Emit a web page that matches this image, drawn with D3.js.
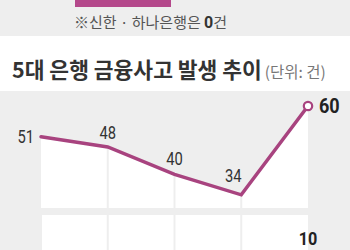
<!DOCTYPE html>
<html><head><meta charset="utf-8">
<script src="https://cdn.jsdelivr.net/npm/d3@7"></script>
<style>
html,body{margin:0;padding:0;background:#fff;overflow:hidden}
svg{display:block}
</style></head>
<body>
<svg id="c" width="350" height="250"></svg>
<script>
const categories = ['2019','2020','2021','2022','2023'];
const values = [51, 48, 40, 34, 60];
const valueLabels = ['51','48','40','34','60'];
const bottomLabels = ['10'];
const titleText = '5대 은행 금융사고 발생 추이';
const unitText = '(단위: 건)';
const noteText = '※신한 · 하나은행은 ';
const noteBold = '0';
const noteEnd = '건';

const svg = d3.select('#c');
const magenta = '#a8437f';
const gray = '#eeeeee';
const cjk = "'Noto Sans CJK KR','Noto Sans',sans-serif";
const num = "Roboto,'Noto Sans',sans-serif";

// top band
svg.append('rect').attr('x',0).attr('y',0).attr('width',350).attr('height',36).attr('fill',gray);
svg.append('rect').attr('x',75).attr('y',0).attr('width',96).attr('height',7).attr('fill','#b4488b');
const note = svg.append('text').attr('x',74).attr('y',28).attr('font-family',cjk).attr('font-size',15).attr('fill','#555');
note.append('tspan').text(noteText);
note.append('tspan').attr('font-weight','bold').attr('fill','#333').attr('font-family',num).attr('font-size',16).text(noteBold);
note.append('tspan').text(noteEnd);

// title
const t = svg.append('text').attr('x',12).attr('y',78).attr('font-family',cjk);
t.append('tspan').attr('font-size',21.5).attr('font-weight','bold').attr('fill','#333').text(titleText);
t.append('tspan').attr('dx',3).attr('font-size',15.5).attr('fill','#777').text(unitText);

// chart background
svg.append('rect').attr('x',0).attr('y',91).attr('width',350).attr('height',159).attr('fill',gray);

const x = d3.scalePoint().domain(categories).range([41, 308]);
const y = d3.scaleLinear().domain([0, 60]).range([311, 106]);
const bottomY = 208;

// white area under line
const area = d3.area().x((d,i)=>x(categories[i])).y0(bottomY).y1(d=>y(d));
svg.append('path').datum(values).attr('d',area).attr('fill','#fff');

// vertical separators
svg.selectAll('.g1').data(categories.slice(1,-1)).enter().append('line')
  .attr('x1',d=>x(d)).attr('x2',d=>x(d)).attr('y1',100).attr('y2',bottomY)
  .attr('stroke',gray).attr('stroke-width',2);

// lower panel
svg.append('rect').attr('x',x(categories[0])+1).attr('y',215).attr('width',x(categories[4])-x(categories[0])-1).attr('height',40).attr('fill','#fff');
svg.selectAll('.g2').data(categories.slice(1,-1)).enter().append('line')
  .attr('x1',d=>x(d)).attr('x2',d=>x(d)).attr('y1',215).attr('y2',250)
  .attr('stroke',gray).attr('stroke-width',2);

// line
const line = d3.line().x((d,i)=>x(categories[i])).y(d=>y(d));
svg.append('path').datum(values).attr('d',line).attr('fill','none')
  .attr('stroke',magenta).attr('stroke-width',3.5).attr('stroke-linejoin','miter').attr('stroke-linecap','round');

// end marker
svg.append('circle').attr('cx',x(categories[4])).attr('cy',y(values[4])).attr('r',4.2)
  .attr('fill','#fff').attr('stroke',magenta).attr('stroke-width',2.2);

// labels (condensed via horizontal scaling)
const offs = [{dx:-7,dy:6.5,a:'end'},{dx:0,dy:-8,a:'middle'},{dx:0,dy:-9,a:'middle'},{dx:-8,dy:-13,a:'middle'},{dx:11,dy:7,a:'start'}];
svg.selectAll('.lab').data(values).enter().append('g')
  .attr('transform',(d,i)=>`translate(${x(categories[i])+offs[i].dx},${y(d)+offs[i].dy}) scale(${i===4?0.88:0.82},1)`)
  .append('text')
  .attr('text-anchor',(d,i)=>offs[i].a)
  .attr('font-family',num)
  .attr('font-size',(d,i)=>i===4?20.5:18)
  .attr('font-weight',(d,i)=>i===4?'bold':'normal')
  .attr('fill',(d,i)=>i===4?'#222':'#333')
  .text((d,i)=>valueLabels[i]);

svg.append('g').attr('transform',`translate(${x(categories[4])},245) scale(0.9,1)`)
  .append('text').attr('text-anchor','middle')
  .attr('font-family',num).attr('font-size',18).attr('font-weight','bold').attr('fill','#222')
  .text(bottomLabels[0]);
</script>
</body></html>
